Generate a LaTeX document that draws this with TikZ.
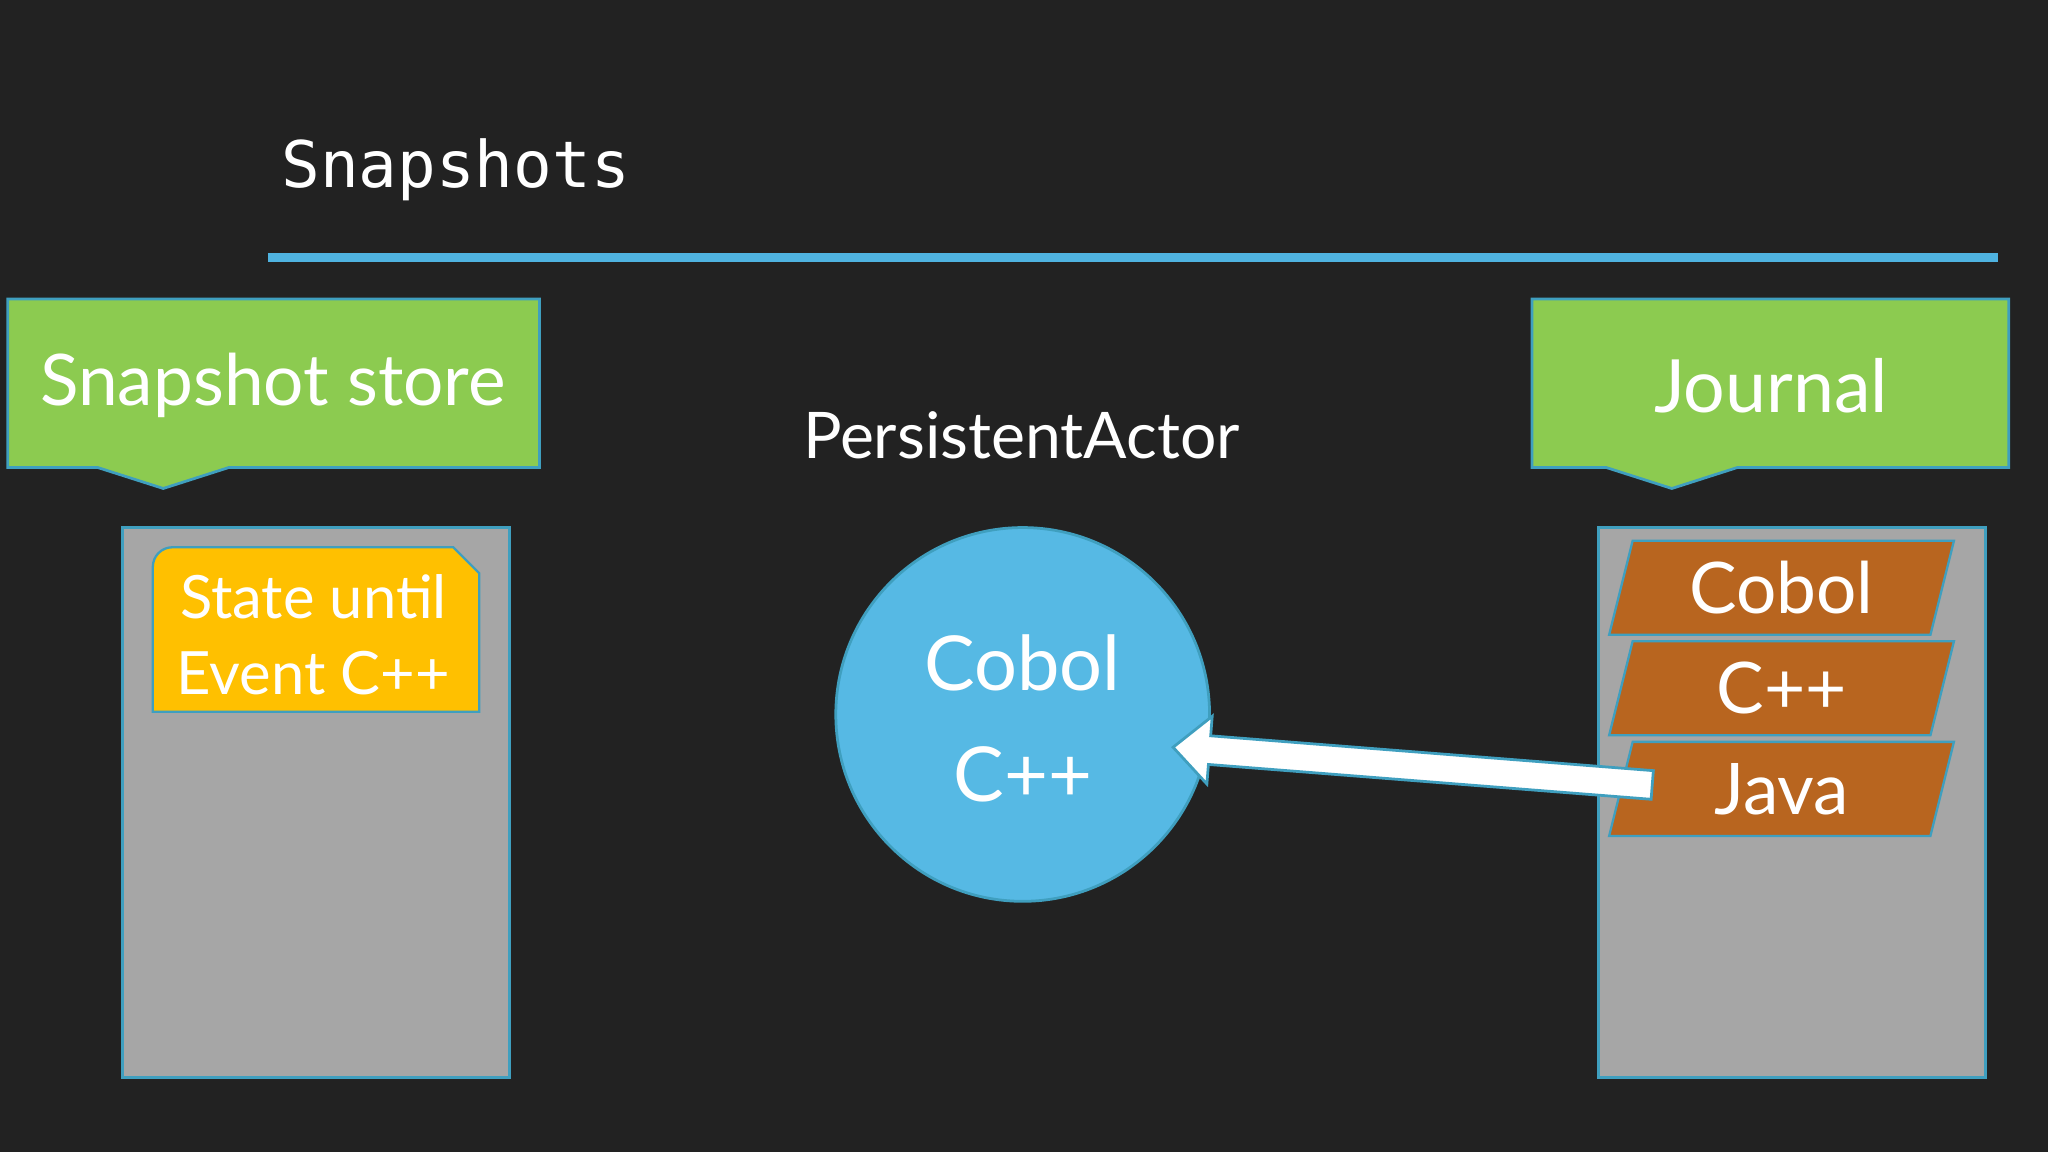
\documentclass[tikz,border=0pt]{standalone}
\usepackage{fontspec}
\setmainfont{Lato}
\newfontfamily\monof{DejaVu Sans Mono}
\begin{document}
\begin{tikzpicture}[x=0.01cm,y=-0.01cm,
  lbl/.style={text=white,font=\fontsize{17}{20}\selectfont},
  gbox/.style={fill=boxgrey,draw=edgeblue,line width=0.6pt},
  par/.style={fill=parbrown,draw=edgeblue,line width=0.5pt},
  callout/.style={fill=calgreen,draw=edgeblue,line width=0.6pt}]
\definecolor{bg}{HTML}{222222}
\definecolor{boxgrey}{HTML}{A6A6A6}
\definecolor{edgeblue}{HTML}{3F9FBF}
\definecolor{parbrown}{HTML}{B8651F}
\definecolor{calgreen}{HTML}{8CCB50}
\definecolor{circblue}{HTML}{56B9E4}
\definecolor{lineblue}{HTML}{4FB3E0}
\definecolor{yel}{HTML}{FFC000}
\fill[bg] (0,0) rectangle (1568,882);
\useasboundingbox (0,0) rectangle (1568,882);
\node[anchor=west,text=white,font=\monof\fontsize{14}{17}\selectfont] (title) at (203,130) {Snapshots};
\draw[lineblue,line width=2pt] (205,197) -- (1530,197);
% callouts
\draw[callout] (6,229) -- (413,229) -- (413,358) -- (175,358) -- (125,374) -- (75,358) -- (6,358) -- cycle;
\node[lbl,font=\fontsize{15.5}{18}\selectfont] (ss) at (209,295) {Snapshot store};
\draw[callout] (1173,229) -- (1538,229) -- (1538,358) -- (1330,358) -- (1280,374) -- (1230,358) -- (1173,358) -- cycle;
\node[lbl,font=\fontsize{16}{19}\selectfont] (jr) at (1356,295) {Journal};
\node[text=white,font=\fontsize{14}{17}\selectfont] (pa) at (782,333) {PersistentActor};
% grey stores
\draw[gbox] (94,404) rectangle (390,825);
\draw[gbox] (1224,404) rectangle (1520,825);
% snapshot
\draw[fill=yel,draw=edgeblue,line width=0.5pt] (117,545) -- (117,434) arc[start angle=180,end angle=270,radius=15] -- (347,419) -- (367,439) -- (367,545) -- cycle;
\node[text=white,align=center,font=\fontsize{13}{16.5}\selectfont] (st) at (240,486) {State until\\Event C++};
% circle
\node[circle,fill=circblue,draw=edgeblue,line width=0.6pt,minimum size=2.86cm,inner sep=0pt] (actor) at (783,547) {};
\node[lbl,align=center,font=\fontsize{16.5}{24}\selectfont] (ac) at (783,550) {Cobol\\C++};
% events
\foreach \y/\t/\n in {414/Cobol/e1,491/C++/e2,568/Java/e3}{
  \draw[par] (1250,\y) -- (1496,\y) -- (1478,\y+72) -- (1232,\y+72) -- cycle;
  \node[lbl,font=\fontsize{15.5}{19}\selectfont] (\n) at (1364,\y+36) {\t};
}
% block arrow
\begin{scope}[shift={(1265,601)},rotate=175.5]
\draw[fill=white,draw=edgeblue,line width=0.6pt] (0,-11) -- (340,-11) -- (340,-26) -- (368,0) -- (340,26) -- (340,11) -- (0,11) -- cycle;
\end{scope}
\end{tikzpicture}
\end{document}
